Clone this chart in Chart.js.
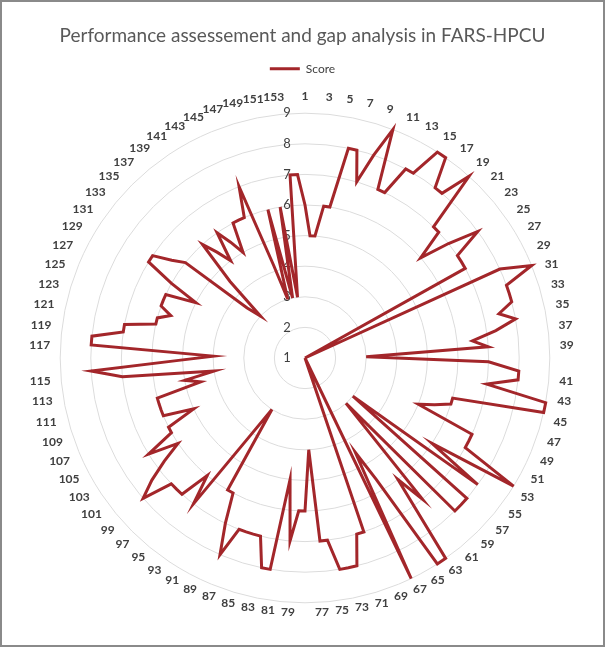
<!DOCTYPE html>
<html><head><meta charset="utf-8">
<script src="https://cdn.jsdelivr.net/npm/chart.js@4.4.0/dist/chart.umd.min.js"></script>
<style>
html,body{margin:0;padding:0;background:#fff;}
#wrap{position:relative;width:601px;height:643px;border:2px solid #8a8a8a;background:#fff;}
</style></head><body>
<div id="wrap"><canvas id="c"></canvas></div>
<script>
const categories = [
 '1','2','3','4','5','6','7','8','9','10','11','12','13','14','15','16','17','18','19','20',
 '21','22','23','24','25','26','27','28','29','30','31','32','33','34','35','36','37','38','39','40',
 '41','42','43','44','45','46','47','48','49','50','51','52','53','54','55','56','57','58','59','60',
 '61','62','63','64','65','66','67','68','69','70','71','72','73','74','75','76','77','78','79','80',
 '81','82','83','84','85','86','87','88','89','90','91','92','93','94','95','96','97','98','99','100',
 '101','102','103','104','105','106','107','108','109','110','111','112','113','114','115','116','117','118','119','120',
 '121','122','123','124','125','126','127','128','129','130','131','132','133','134','135','136','137','138','139','140',
 '141','142','143','144','145','146','147','148','149','150','151','152','153','154'];

const scores = [
 6,5,5,6,6,8,8,7,8,9,            // 1-10
 7,7,8,8,9,9,8,8,9,7,            // 11-20
 7,6,7,8,7,7,7,1,8,9,            // 21-30
 8,8,8,7.5,8,7.3,6.5,7,3,7,      // 31-40
 8,8,7,9,9,6,6,5.5,5,7,          // 41-50
 7,7,9,6,8,3,8,8,8,3,            // 51-60
 7,6,9,9,5.6,4.5,9,1,1,7,        // 61-70
 7,8,8,8,7,7,4,6,6,7,            // 71-80
 5,8,8,7,7,7,7,8,7,6,            // 81-90
 6,3,4,7,6,7,7,7,8,7.4,          // 91-100
 6.7,6,7,6,6,5,6,6,6,6,          // 101-110
 4.5,5,4,7,8,5.2,4,8,8,7,        // 111-120
 7,6,6,5.6,6,6,6,5,6,7,          // 121-130
 7,6.4,6,3.5,3,4.5,6,5.5,5,6,    // 131-140
 5.5,5,6,6,6,7,4.2,3,6,3,        // 141-150
 6,3,7,7];                       // 151-154

const tickValues = [1,2,3,4,5,6,7,8,9];
const tickLabels = ['1','2','3','4','5','6','7','8','9'];

const titleText = 'Performance assessement and gap analysis in FARS-HPCU';
const seriesName = 'Score';
const lineColor = '#a3262a';

const tickLeft = {
  id: 'tickLeft',
  beforeDatasetsDraw(chart) {
    const s = chart.scales.r, ctx = chart.ctx;
    ctx.save();
    ctx.font = '13px Lato';
    ctx.fillStyle = '#404040';
    ctx.textAlign = 'center';
    ctx.textBaseline = 'middle';
    tickValues.forEach((v, i) => {
      const d = s.getDistanceFromCenterForValue(v);
      ctx.fillText(tickLabels[i], s.xCenter - 18, s.yCenter - d);
    });
    ctx.restore();
  }
};

function labelPadding(ctx) {
  const n = categories.length;
  const a = (ctx.index / n) * 2 * Math.PI;
  const down = Math.max(0, -Math.cos(a));
  return Math.round(10 - 8 * down * down);
}

new Chart(document.getElementById('c'), {
  type: 'radar',
  data: {
    labels: categories,
    datasets: [{
      label: seriesName,
      data: scores,
      borderColor: lineColor,
      backgroundColor: lineColor,
      borderWidth: 3,
      pointRadius: 0,
      pointHoverRadius: 0,
      fill: false,
      tension: 0
    }]
  },
  options: {
    responsive: true,
    maintainAspectRatio: false,
    animation: false,
    layout: { padding: { left: 10, right: 10, top: 2, bottom: 21 } },
    plugins: {
      title: { display: true, text: titleText, color: '#595959',
               font: { family: 'Lato', size: 19, weight: 'normal' }, padding: { top: 20, bottom: 8 } },
      legend: { display: true, position: 'top',
                labels: { color: '#404040', font: { family: 'Lato', size: 12 }, usePointStyle: true,
                          pointStyle: 'line', pointStyleWidth: 30, padding: 8 } },
      tooltip: { enabled: false }
    },
    scales: {
      r: {
        min: 1, max: 9, startAngle: 0,
        ticks: { stepSize: 1, display: false },
        grid: { circular: true, color: '#dcdcdc', lineWidth: 1 },
        angleLines: { display: false },
        pointLabels: {
          display: true,
          color: '#404040',
          padding: labelPadding,
          font: { family: 'Lato', size: 12, weight: 'bold' },
          callback: (l, i) => (i % 2 === 0 ? l : '')
        }
      }
    }
  },
  plugins: [tickLeft]
});
</script>
</body></html>
